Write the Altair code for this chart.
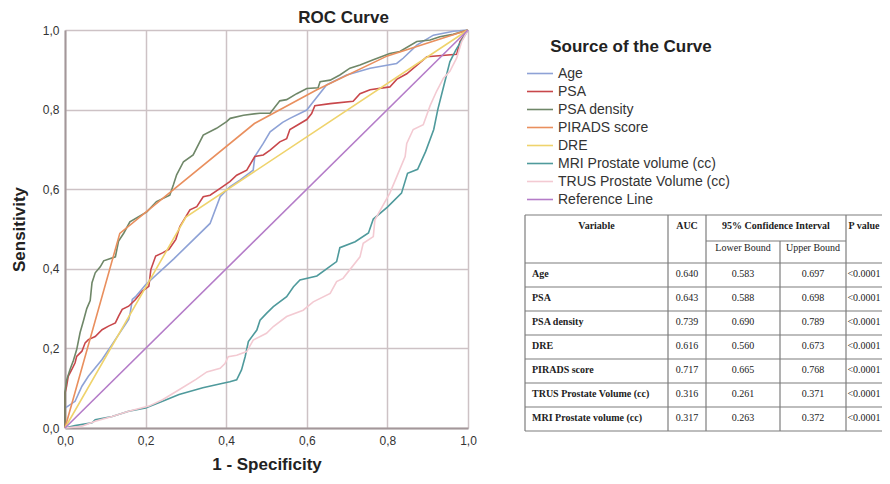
import altair as alt
import pandas as pd

# ---------------- ROC curve data (1 - specificity, sensitivity) ----------------
age_x = [0, 0, 0.025, 0.042, 0.058, 0.092, 0.117, 0.158, 0.162, 0.167, 0.175, 0.2, 0.27, 0.36, 0.385,
         0.409, 0.434, 0.467, 0.471, 0.492, 0.509, 0.54, 0.558, 0.6, 0.616, 0.649, 0.699, 0.757, 0.823,
         0.839, 0.873, 0.914, 0.964, 1]
age_y = [0, 0.05, 0.067, 0.105, 0.13, 0.172, 0.21, 0.273, 0.29, 0.323, 0.33, 0.36, 0.425, 0.514, 0.581,
         0.606, 0.623, 0.648, 0.682, 0.715, 0.744, 0.768, 0.778, 0.799, 0.82, 0.862, 0.887, 0.904, 0.916,
         0.929, 0.962, 0.987, 0.997, 1]

psa_x = [0, 0, 0.004, 0.008, 0.017, 0.025, 0.029, 0.042, 0.05, 0.058, 0.075, 0.092, 0.108, 0.125, 0.133,
         0.142, 0.158, 0.175, 0.192, 0.208, 0.213, 0.225, 0.242, 0.258, 0.275, 0.285, 0.31, 0.327, 0.343,
         0.36, 0.385, 0.409, 0.426, 0.451, 0.471, 0.492, 0.509, 0.533, 0.55, 0.558, 0.575, 0.6, 0.612, 0.62,
         0.658, 0.715, 0.732, 0.757, 0.806, 0.823, 0.848, 0.889, 0.898, 0.972, 0.98, 1]
psa_y = [0, 0.088, 0.105, 0.13, 0.147, 0.164, 0.18, 0.193, 0.214, 0.222, 0.23, 0.247, 0.256, 0.264, 0.281,
         0.298, 0.306, 0.323, 0.344, 0.356, 0.398, 0.432, 0.44, 0.449, 0.474, 0.506, 0.548, 0.556, 0.581,
         0.585, 0.602, 0.619, 0.635, 0.648, 0.682, 0.686, 0.698, 0.719, 0.727, 0.75, 0.76, 0.775, 0.79, 0.81,
         0.815, 0.821, 0.84, 0.85, 0.857, 0.876, 0.89, 0.925, 0.933, 0.939, 0.971, 1]

psad_x = [0, 0, 0.004, 0.0125, 0.021, 0.029, 0.0375, 0.046, 0.054, 0.0625, 0.067, 0.075, 0.0875, 0.096,
          0.125, 0.133, 0.146, 0.161, 0.203, 0.227, 0.26, 0.269, 0.277, 0.294, 0.318, 0.343, 0.376, 0.401,
          0.41, 0.443, 0.484, 0.509, 0.533, 0.55, 0.575, 0.6, 0.628, 0.633, 0.658, 0.682, 0.707, 0.732,
          0.765, 0.806, 0.831, 0.873, 0.906, 0.93, 0.963, 1]
psad_y = [0, 0.09, 0.12, 0.147, 0.17, 0.197, 0.24, 0.27, 0.30, 0.32, 0.365, 0.39, 0.405, 0.42,
          0.43, 0.47, 0.49, 0.518, 0.543, 0.569, 0.585, 0.611, 0.636, 0.669, 0.686, 0.736, 0.753, 0.77,
          0.778, 0.786, 0.791, 0.791, 0.822, 0.825, 0.84, 0.853, 0.855, 0.87, 0.874, 0.887, 0.904, 0.912,
          0.925, 0.941, 0.946, 0.971, 0.975, 0.983, 0.989, 1]

pirads_x = [0, 0.136, 0.47, 0.625, 0.8, 1]
pirads_y = [0, 0.489, 0.765, 0.85, 0.935, 1]

dre_x = [0, 0.30, 1]
dre_y = [0, 0.53, 1]

mri_x = [0, 0.025, 0.067, 0.075, 0.117, 0.158, 0.2, 0.242, 0.283, 0.342, 0.389, 0.409, 0.426, 0.438,
         0.447, 0.455, 0.476, 0.484, 0.5, 0.517, 0.55, 0.567, 0.583, 0.625, 0.674, 0.682, 0.72, 0.753,
         0.765, 0.8, 0.835, 0.85, 0.875, 0.895, 0.915, 0.925, 0.94, 0.955, 0.97, 1]
mri_y = [0, 0.006, 0.013, 0.021, 0.029, 0.042, 0.05, 0.067, 0.084, 0.101, 0.112, 0.116, 0.121, 0.146,
         0.179, 0.217, 0.246, 0.271, 0.288, 0.305, 0.33, 0.355, 0.372, 0.382, 0.418, 0.453, 0.468, 0.49,
         0.525, 0.555, 0.59, 0.64, 0.65, 0.695, 0.75, 0.80, 0.86, 0.92, 0.95, 1]

trus_x = [0, 0.04, 0.075, 0.117, 0.158, 0.208, 0.242, 0.283, 0.325, 0.352, 0.385, 0.397, 0.405, 0.426,
          0.451, 0.467, 0.5, 0.517, 0.55, 0.591, 0.616, 0.658, 0.674, 0.69, 0.732, 0.74, 0.765, 0.769,
          0.806, 0.823, 0.844, 0.848, 0.864, 0.889, 0.906, 0.922, 0.939, 0.955, 0.972, 0.984, 1]
trus_y = [0, 0.004, 0.017, 0.029, 0.042, 0.055, 0.071, 0.096, 0.122, 0.141, 0.15, 0.162, 0.179, 0.183,
          0.192, 0.221, 0.238, 0.255, 0.28, 0.296, 0.317, 0.338, 0.368, 0.376, 0.43, 0.464, 0.481, 0.523,
          0.59, 0.631, 0.682, 0.715, 0.75, 0.762, 0.81, 0.846, 0.879, 0.896, 0.93, 0.97, 1]

ref_x = [0, 1]
ref_y = [0, 1]

series_names = ["Age", "PSA", "PSA density", "PIRADS score", "DRE",
                "MRI Prostate volume (cc)", "TRUS Prostate Volume (cc)", "Reference Line"]
series_colors = ["#8ea2d6", "#c8474b", "#6f8768", "#e98f5e", "#efd36c",
                 "#4f9a9c", "#f3cad2", "#b47cc8"]
series_xy = [(age_x, age_y), (psa_x, psa_y), (psad_x, psad_y), (pirads_x, pirads_y), (dre_x, dre_y),
             (mri_x, mri_y), (trus_x, trus_y), (ref_x, ref_y)]

axis_ticks = [0, 0.2, 0.4, 0.6, 0.8, 1.0]

# ---------------- table data ----------------
tbl_variables = ["Age", "PSA", "PSA density", "DRE", "PIRADS score",
                 "TRUS Prostate Volume (cc)", "MRI Prostate volume (cc)"]
tbl_auc = ["0.640", "0.643", "0.739", "0.616", "0.717", "0.316", "0.317"]
tbl_lower = ["0.583", "0.588", "0.690", "0.560", "0.665", "0.261", "0.263"]
tbl_upper = ["0.697", "0.698", "0.789", "0.673", "0.768", "0.371", "0.372"]
tbl_p = ["<0.0001"] * 7

# ---------------- build frames ----------------
rows = []
for name, (xs, ys) in zip(series_names, series_xy):
    for i, (a, b) in enumerate(zip(xs, ys)):
        rows.append({"series": name, "fpr": a, "tpr": b, "ord": i})
roc_df = pd.DataFrame(rows)

FONT = "Liberation Sans"
SERIF = "Liberation Serif"
label_expr = "replace(format(datum.value, '.1f'), '.', ',')"
grid_col = "#cdc2c5"
dom_col = "#a3979a"

roc = alt.Chart(roc_df).mark_line(strokeWidth=1.6).encode(
    x=alt.X("fpr:Q", scale=alt.Scale(domain=[0, 1], nice=False),
            axis=alt.Axis(values=axis_ticks, labelExpr=label_expr, title="1 - Specificity",
                          grid=True, gridColor=grid_col, gridWidth=1.5, domainColor=dom_col,
                          domainWidth=2, ticks=False, labelPadding=7, labelFontSize=12,
                          labelFlush=False, labelFont=FONT, labelColor="#333333",
                          titleFont=FONT, titleFontSize=17, titleFontWeight="bold",
                          titleColor="#222222", titlePadding=10)),
    y=alt.Y("tpr:Q", scale=alt.Scale(domain=[0, 1], nice=False),
            axis=alt.Axis(values=axis_ticks, labelExpr=label_expr, title="Sensitivity",
                          grid=True, gridColor=grid_col, gridWidth=1.5, domainColor=dom_col,
                          domainWidth=2, ticks=False, labelPadding=6, labelFontSize=12,
                          labelFlush=False, labelFont=FONT, labelColor="#333333",
                          titleFont=FONT, titleFontSize=17, titleFontWeight="bold",
                          titleColor="#222222", titlePadding=14)),
    color=alt.Color("series:N", scale=alt.Scale(domain=series_names, range=series_colors),
                    legend=alt.Legend(title="Source of the Curve", orient="none", legendX=468,
                                      legendY=9, direction="vertical",
                                      symbolType="M-2.6,0H2.6", symbolSize=100,
                                      symbolStrokeWidth=1.6, labelOffset=11, labelFontSize=14,
                                      labelLimit=400, labelFont=FONT, labelColor="#333333",
                                      titleFont=FONT, titleFontSize=17, titleFontWeight="bold",
                                      titleColor="#222222", titleLimit=400,
                                      titleAnchor="middle", titlePadding=10.5, rowPadding=4,
                                      padding=0)),
    order="ord:Q",
)

# table layout (pixels inside the table)
TX0, TY0 = 460, 185          # table origin relative to plot origin
col_edges = [0, 143, 181, 255, 321]
P_W = 36
TW = col_edges[4] + P_W
row_edges = [0, 48, 72, 96, 120, 144, 168, 192, 216]
sub_y = 26

hl = [{"x": 0, "x2": TW, "y": r} for r in row_edges]
hl.append({"x": col_edges[2], "x2": col_edges[4], "y": sub_y})
vl = [{"x": col_edges[0], "y": 0, "y2": 216},
      {"x": col_edges[1], "y": 0, "y2": 216},
      {"x": col_edges[2], "y": 0, "y2": 216},
      {"x": col_edges[3], "y": sub_y, "y2": 216},
      {"x": col_edges[4], "y": 0, "y2": 216}]

tx = alt.Scale(domain=[0, TW], range=[TX0, TX0 + TW])
ty = alt.Scale(domain=[0, 216], range=[TY0, TY0 + 216])

def cen(a, b):
    return (a + b) / 2

p_c = cen(col_edges[4], TW)
hdr_bold = pd.DataFrame([
    {"x": cen(col_edges[0], col_edges[1]), "y": 11, "t": "Variable"},
    {"x": cen(col_edges[1], col_edges[2]), "y": 11, "t": "AUC"},
    {"x": cen(col_edges[2], col_edges[4]), "y": 11, "t": "95% Confidence Interval"},
    {"x": p_c, "y": 11, "t": "P value"},
])
reg_rows = [
    {"x": cen(col_edges[2], col_edges[3]), "y": 33, "t": "Lower Bound"},
    {"x": cen(col_edges[3], col_edges[4]), "y": 33, "t": "Upper Bound"},
]
var_rows = []
for i in range(len(tbl_variables)):
    yc = row_edges[i + 1] + 10.5
    var_rows.append({"x": 7, "y": yc, "t": tbl_variables[i]})
    reg_rows.append({"x": cen(col_edges[1], col_edges[2]), "y": yc, "t": tbl_auc[i]})
    reg_rows.append({"x": cen(col_edges[2], col_edges[3]), "y": yc, "t": tbl_lower[i]})
    reg_rows.append({"x": cen(col_edges[3], col_edges[4]), "y": yc, "t": tbl_upper[i]})
    reg_rows.append({"x": p_c, "y": yc, "t": tbl_p[i]})

line_col = "#7d7d7d"
t_h = alt.Chart(pd.DataFrame(hl)).mark_rule(color=line_col, strokeWidth=1.2).encode(
    x=alt.X("x:Q", scale=tx, axis=None), x2="x2:Q", y=alt.Y("y:Q", scale=ty, axis=None))
t_v = alt.Chart(pd.DataFrame(vl)).mark_rule(color=line_col, strokeWidth=1.2).encode(
    x=alt.X("x:Q", scale=tx, axis=None), y=alt.Y("y:Q", scale=ty, axis=None), y2="y2:Q")
t_hdr = alt.Chart(hdr_bold).mark_text(font=SERIF, fontSize=10, fontWeight="bold", color="#222222",
                                      align="center", baseline="middle").encode(
    x=alt.X("x:Q", scale=tx, axis=None), y=alt.Y("y:Q", scale=ty, axis=None), text="t:N")
t_reg = alt.Chart(pd.DataFrame(reg_rows)).mark_text(font=SERIF, fontSize=10, color="#222222",
                                                    align="center", baseline="middle").encode(
    x=alt.X("x:Q", scale=tx, axis=None), y=alt.Y("y:Q", scale=ty, axis=None), text="t:N")
t_var = alt.Chart(pd.DataFrame(var_rows)).mark_text(font=SERIF, fontSize=10, fontWeight="bold",
                                                    color="#222222", align="left",
                                                    baseline="middle").encode(
    x=alt.X("x:Q", scale=tx, axis=None), y=alt.Y("y:Q", scale=ty, axis=None), text="t:N")

table = alt.layer(t_h, t_v, t_hdr, t_reg, t_var)

PLOT_W, PLOT_H = 403, 398
PAD_L, PAD_T = 57, 22
chart = alt.layer(roc, table).resolve_scale(x="independent", y="independent").properties(
    width=PLOT_W, height=PLOT_H,
    title=alt.TitleParams("ROC Curve", fontSize=17, font=FONT, fontWeight="bold", color="#222222",
                          anchor="middle", frame="group", dx=77, dy=6, offset=3),
    autosize=alt.AutoSizeParams(type="none"),
    padding={"left": PAD_L, "top": PAD_T, "right": 874 - PAD_L - PLOT_W,
             "bottom": 468 - PAD_T - PLOT_H},
    background="white",
).configure_view(stroke=None)

chart.save("out.html", embed_options={"renderer": "svg", "actions": False})
